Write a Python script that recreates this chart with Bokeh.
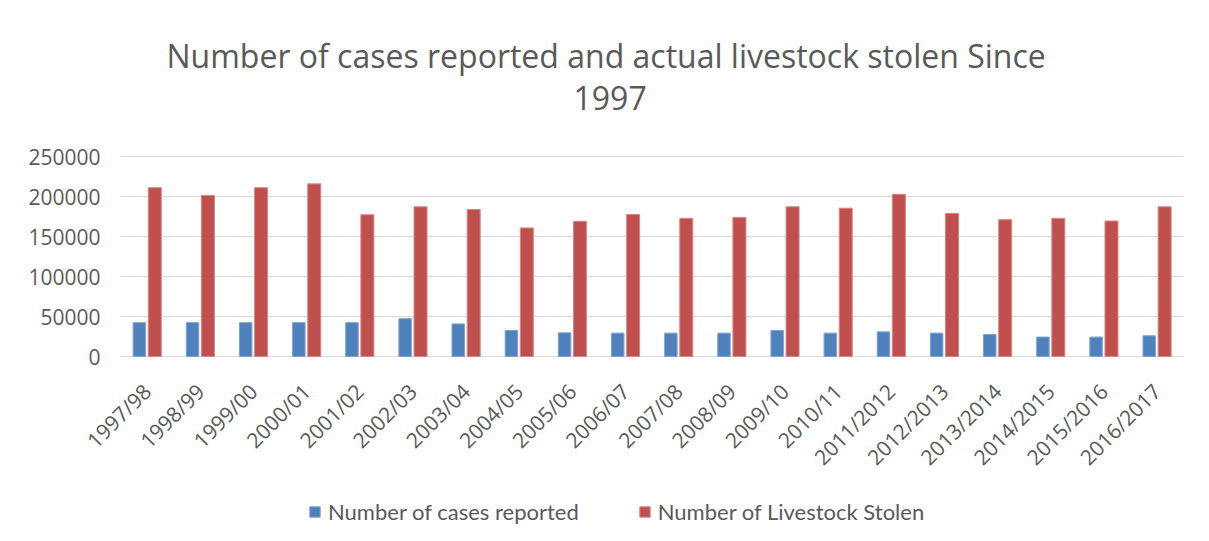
import math
from bokeh.plotting import figure
from bokeh.models import ColumnDataSource, Range1d, Legend, LegendItem, Title
from bokeh.transform import dodge
from bokeh.core.properties import value
from bokeh.embed import file_html
from bokeh.resources import INLINE

years = ["1997/98", "1998/99", "1999/00", "2000/01", "2001/02", "2002/03", "2003/04",
         "2004/05", "2005/06", "2006/07", "2007/08", "2008/09", "2009/10", "2010/11",
         "2011/2012", "2012/2013", "2013/2014", "2014/2015", "2015/2016", "2016/2017"]
cases_reported = [42300, 42300, 42300, 42300, 42300, 47300, 40700, 32500, 29600, 29200,
                  29200, 29200, 32500, 29200, 30800, 29200, 27500, 24300, 24300, 25900]
livestock_stolen = [211000, 201400, 211000, 215800, 177200, 187100, 183800, 160700, 169000, 177600,
                    172700, 173900, 187100, 185400, 202700, 178800, 171000, 172700, 169400, 187100]
y_ticks = [0, 50000, 100000, 150000, 200000, 250000]

n = len(years)
idx = list(range(n))
src = ColumnDataSource(dict(idx=idx, year=years, cases=cases_reported, stolen=livestock_stolen,
                            base=[0] * n))
tick_src = ColumnDataSource(dict(y=y_ticks, label=[str(t) for t in y_ticks],
                                 x0=[-0.5] * len(y_ticks), x1=[n - 0.5] * len(y_ticks)))

# layout (pixels): plot band 120..1183 horizontally; zero line at 356, 250000 at 156
W = 1201
left_px, right_px = 120, 1183
unit = (right_px - left_px) / n
top_px, zero_px, bottom_px = 140, 356, 533
px_per_val = 200 / y_ticks[-1]

x_range = Range1d(-0.5 - left_px / unit, n - 0.5 + (W - right_px) / unit)
y_range = Range1d(-(bottom_px - zero_px) / px_per_val, y_ticks[-1] + (156 - top_px) / px_per_val)

p = figure(frame_width=W, frame_height=bottom_px - top_px, x_range=x_range, y_range=y_range,
           output_backend="svg", toolbar_location=None,
           x_axis_location=None, y_axis_location=None,
           min_border_left=0, min_border_right=0, min_border_top=top_px, min_border_bottom=0)
p.grid.visible = False
p.outline_line_color = None

grey = "#595959"
# horizontal gridlines spanning the category band
p.segment(x0="x0", x1="x1", y0="y", y1="y", source=tick_src, line_color="#d9d9d9", line_width=1)

blue = "#4f81bd"
red = "#c0504d"
r1 = p.vbar(x=dodge("idx", -0.145), top="cases", width=0.235, source=src,
            fill_color=blue, line_color="#7ea3d2", line_width=1)
r2 = p.vbar(x=dodge("idx", 0.145), top="stolen", width=0.245, source=src,
            fill_color=red, line_color="#d88785", line_width=1)

# value-axis labels
p.text(x="x0", y="y", text="label", source=tick_src, text_align="right", text_baseline="middle",
       x_offset=-20, text_font=value("Open Sans"), text_font_size="21px", text_color=grey)

# category labels, rotated 45 degrees
p.text(x="idx", y="base", text="year", source=src, angle=math.pi / 4,
       text_align="right", text_baseline="middle", y_offset=31,
       text_font=value("Open Sans"), text_font_size="21px", text_color=grey)

t2 = Title(text="1997", align="left", text_font="Open Sans", text_font_size="32px",
           text_font_style="normal", text_color=grey, standoff=62, offset=573)
t1 = Title(text="Number of cases reported and actual livestock stolen Since", align="left",
           text_font="Open Sans", text_font_size="32px", text_font_style="normal",
           text_color=grey, standoff=-48, offset=166)
p.add_layout(t2, "above")
p.add_layout(t1, "above")

legend = Legend(items=[LegendItem(label="Number of cases reported", renderers=[r1]),
                       LegendItem(label="Number of Livestock Stolen", renderers=[r2])],
                orientation="horizontal", location=(308, 8),
                label_text_font="Lato", label_text_font_size="22px", label_text_color=grey,
                glyph_width=13, glyph_height=13, label_standoff=7, spacing=59,
                border_line_color=None, background_fill_alpha=0, margin=0, padding=4)
p.add_layout(legend)

open("out.html", "w").write(file_html(p, INLINE))
